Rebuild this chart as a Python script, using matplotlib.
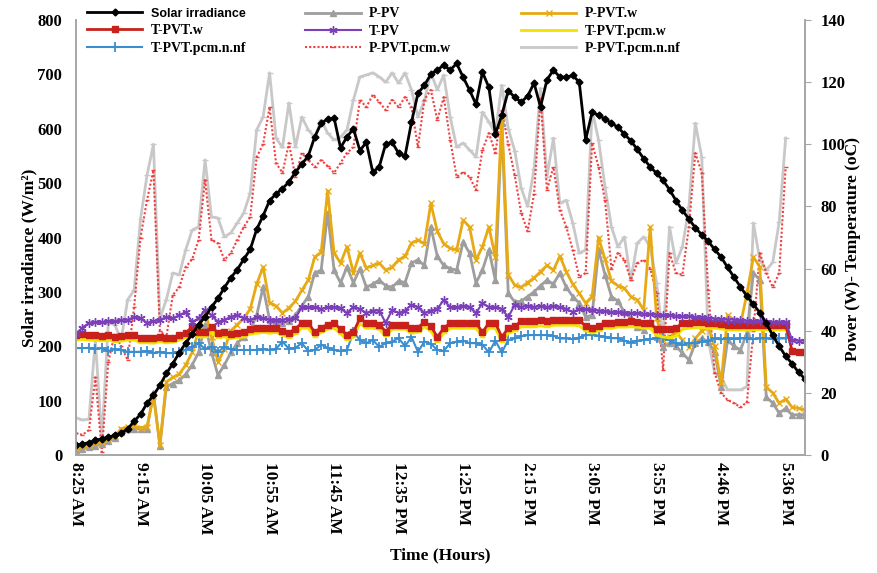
import numpy as np
import matplotlib
matplotlib.use("Agg")
import matplotlib.pyplot as plt

nan = float("nan")

# ---- data (one reading every 5 min, 8:25 AM onwards) ----
tick_labels = ["8:25 AM", "9:15 AM", "10:05 AM", "10:55 AM", "11:45 AM", "12:35 PM",
               "1:25 PM", "2:15 PM", "3:05 PM", "3:55 PM", "4:46 PM", "5:36 PM"]

solar = [18, 20, 23, 27, 30, 33, 36, 40, 48, 62,
         75, 95, 110, 128, 150, 168, 188, 206, 222, 240,
         254, 272, 288, 308, 326, 341, 360, 378, 415, 440,
         468, 480, 490, 502, 520, 535, 550, 585, 610, 618,
         620, 565, 585, 600, 560, 575, 520, 530, 572, 575,
         555, 550, 612, 665, 680, 700, 708, 717, 708, 720,
         695, 671, 645, 704, 676, 590, 625, 670, 658, 649,
         660, 684, 640, 690, 708, 695, 695, 698, 686, 580,
         630, 625, 618, 610, 603, 590, 578, 562, 545, 530,
         518, 505, 488, 468, 450, 434, 418, 405, 393, 378,
         364, 345, 327, 309, 292, 277, 262, 242, 220, 200,
         182, 168, 152, 140]

p_pv = [1.5, 2, 2.5, 3, 3.5, 4.5, 5.5, 7.5, 8.5, 8.5,
        8.5, 8.5, 20, 3, 22, 23, 24, 26, 29, 33,
        42, 33, 25.7, 29, 33, 36, 38, 40, 45, 54,
        43.5, 43, 42.5, 43, 45, 48, 51, 58.6, 59.5, 78,
        59.5, 55.4, 60.5, 55.4, 60, 54, 55, 56.3, 54.5, 54,
        56, 55.5, 61.8, 62.8, 61, 73.4, 64, 61, 60, 59.5,
        68.6, 65, 55.4, 59.5, 66, 56.3, 106.8, 52, 49.3, 49.5,
        51, 52.5, 54.5, 56.3, 55, 58.6, 54, 51, 48.9, 44.4,
        45, 66, 58, 51, 49.5, 46, 44, 41.2, 40.2, 43,
        38, 34.8, 36, 35, 32.8, 30.6, 36, 37.5, 36.5, 33,
        21.9, 37, 35, 33.8, 39.3, 58.6, 56.3, 18.7, 16.7, 13.5,
        15, 12.9, 13, 12.9]

p_pvt_w = [2.3, 2.8, 3.2, 3.8, 4.2, 5, 6, 8.5, 9, 9.2,
           8.8, 9, 19, 3.2, 23.5, 25, 26, 29, 33, 40,
           46.5, 38, 30, 34, 40, 42, 44, 47, 55, 60.5,
           49, 48, 45.7, 47.3, 49.5, 53, 56.3, 63.7, 65.3, 85,
           65, 61.8, 67, 58.6, 65, 60.2, 61, 61.8, 59.5, 60.5,
           62.8, 64, 68.2, 69.2, 68, 81, 72, 68, 66.5, 66,
           75.6, 73.4, 62.8, 67, 73.4, 63.7, 108.8, 58, 54.7, 54,
           55.5, 57, 59, 61, 59.5, 64, 59, 55, 52, 48.9,
           51, 70, 63, 56, 54.5, 53.7, 51, 49.9, 46.7, 73.4,
           44, 37, 38, 39.5, 37, 34.8, 37.5, 40, 41.2, 35,
           23.2, 45, 43.5, 42, 52, 63.7, 60.5, 21.9, 20, 16.7,
           18, 15.4, 15, 14.5]

t_pvt_w = [38.6, 38.8, 38.5, 38.6, 38.2, 38.6, 38, 38.2, 38.5, 38.6,
           37.6, 37.6, 37.5, 38, 37.6, 37.8, 38.5, 39.3, 41.2, 39.5,
           39.5, 41.2, 39.3, 39.5, 39, 39.3, 39.6, 40.5, 40.8, 41,
           40.8, 41, 40, 39.3, 40.6, 42.5, 42.5, 39.5, 41, 42,
           42.5, 40.5, 38.6, 39.5, 44, 42.5, 42.5, 42, 39.7, 42,
           42, 42, 40.8, 41, 42.8, 41.5, 38, 40.8, 42.5, 42.5,
           42.5, 42.5, 42.5, 39.5, 42.5, 42.5, 38, 40.8, 41.5, 43,
           43, 43, 43.3, 43, 43.5, 43.5, 43.5, 43.5, 43.3, 41.5,
           40.8, 41.5, 42.5, 42.5, 42.8, 42.8, 43, 42.8, 42.5, 42.5,
           40.5, 40.5, 40.5, 40.8, 42.5, 42.5, 42.8, 42.8, 42.5, 42.5,
           42.3, 42, 41.8, 41.8, 41.8, 42, 42, 42, 42, 42,
           42, 33.5, 33.2, 33.2]

t_pv = [39, 41, 42.5, 42.8, 42.8, 43, 43, 43.5, 43.5, 44.4,
        44, 42.5, 43, 43.5, 44.4, 44, 45, 46, 42.8, 44,
        46.7, 45, 42.8, 43.5, 44.5, 45, 44, 43.5, 44.4, 44,
        43.5, 43.5, 43.5, 43.8, 44, 47.6, 47.6, 47.6, 47, 47.6,
        47.6, 47.2, 45.7, 47.6, 47, 45.7, 46.5, 46.5, 42.5, 46.7,
        45.7, 46.5, 48.3, 47.6, 45.7, 46.5, 47, 49.9, 47.6, 47.6,
        48, 47.6, 45.7, 48.9, 47.6, 47.6, 47, 44.4, 48.3, 47.6,
        48, 47.6, 48, 47.6, 48, 47.6, 47, 46, 47, 47,
        46.7, 46.5, 46.3, 46, 46.1, 45.8, 45.6, 45.6, 45.4, 45.3,
        45.2, 45, 45.1, 44.8, 44.7, 44.6, 44.3, 44.3, 44, 43.9,
        43.8, 43.6, 43.6, 43.3, 43.2, 43, 43, 42.8, 42.8, 42.9,
        42.8, 37, 36.8, 36.8]

t_pvt_pcm_w = [37, 37.2, 37, 37, 36.8, 37, 36.5, 36.7, 37, 37,
               36.2, 36.2, 36, 36.5, 36.2, 36.3, 37, 37.8, 39.5, 38,
               38, 39.5, 37.8, 38, 37.5, 37.8, 38, 39, 39.2, 39.5,
               39.2, 39.5, 38.5, 37.8, 39, 40.8, 40.8, 38, 39.5, 40.5,
               40.8, 39, 37, 38, 42.3, 40.8, 40.8, 40.5, 38.2, 40.5,
               40.5, 40.5, 39.2, 39.5, 41.2, 40, 36.5, 39.2, 40.8, 40.8,
               40.8, 40.8, 40.8, 38, 40.8, 40.8, 36.5, 39.2, 40, 41.3,
               41.3, 41.3, 41.6, 41.3, 41.8, 41.8, 41.8, 41.8, 41.6, 40,
               39.3, 40, 40.8, 40.8, 41.2, 41.2, 41.3, 41.2, 40.8, 40.8,
               38.5, 38, 37.8, 38.2, 40.5, 40.8, 41, 41, 40.8, 40.8,
               40.6, 40.3, 40.2, 40.2, 40.2, 40.3, 40.3, 40.3, 40.3, 40.3,
               40.3, nan, nan, nan]

t_pvt_pcm_n_nf = [34.4, 34.4, 34.5, 34.2, 34.4, 33.5, 34, 33.8, 33.2, 33.2,
                  33.2, 33.5, 32.8, 33.2, 32.8, 32.8, 33.2, 33.8, 34.8, 35.9,
                  34.2, 34.8, 33.2, 34.8, 34, 33.8, 33.8, 33.8, 33.8, 34,
                  33.8, 34.2, 36.5, 34.2, 34.5, 36, 33.5, 33.8, 35.5, 34.5,
                  33.8, 33.5, 33.8, 39.6, 37, 36, 37, 34.8, 36, 36.5,
                  37.6, 35, 38, 33.2, 36.5, 35.8, 33.8, 33.5, 36, 36.5,
                  36.8, 36, 36, 35.5, 33, 36.8, 33, 37, 37.5, 38.2,
                  38.6, 38.6, 38.6, 38.6, 38.4, 37.5, 37.5, 37.3, 37.8, 38.6,
                  38.6, 38.4, 38, 37.6, 37.6, 36.8, 36.2, 36.8, 37, 37.3,
                  37.6, 37.6, 37, 36, 35.5, 36, 36, 36.5, 36.8, 37.5,
                  37.2, 37.5, 37.3, 37.5, 37.5, 37.3, 37.5, 37.5, 37.3, 37.5,
                  37.5, nan, nan, nan]

p_pvt_pcm_w = [7, 6.5, 8, 25, 1, 30, 39, 35, 30.6, 47.6,
               70, 82, 91.7, 40, 38, 51.5, 54, 60.5, 63, 69.2,
               88.5, 69.2, 68.2, 62.8, 65, 69.2, 73.4, 76.6, 95.9, 100,
               112, 94, 90.8, 100.4, 89.5, 97.2, 94.9, 92.7, 94.9, 93,
               90.8, 94, 97.2, 99.1, 114.3, 112, 115.9, 113.6, 111, 114.3,
               112, 115.2, 112, 99.1, 114.3, 117.5, 107.8, 115.2, 101.4, 89.5,
               91, 89.5, 85.3, 98.2, 103.6, 97.2, 111, 100, 90, 78,
               72, 84, 115, 85.3, 92.7, 78.9, 73.4, 66, 57.3, 58.6,
               100.4, 92.7, 82, 60, 65, 62.8, 56.3, 61.8, 62.8, 60,
               52.1, 27.4, 65, 58.6, 58, 73.4, 97.2, 90.8, 53.1, 26.4,
               20, 17.7, 16.7, 15.4, 17, 40, 65, 58.6, 54, 58.6,
               92.7, nan, nan, nan]

p_pvt_pcm_n_nf = [12, 11.3, 11.5, 37, 5, 42.5, 42, 37, 50, 53,
                  76, 90, 100, 44, 50, 58.6, 58, 66, 72.4, 73.4,
                  95, 76.6, 76.3, 70.2, 71.5, 74.7, 77.9, 84.3, 104.6, 108.8,
                  123, 102, 99, 113.3, 99.1, 108.8, 104.6, 102.3, 107.8, 103.6,
                  101.4, 102.3, 104.6, 114.3, 121.7, 122.3, 123, 121.7, 120, 123,
                  119.7, 123, 117.5, 108.8, 114, 123, 117.5, 122.3, 108.8, 99.1,
                  100.4, 98.2, 95.9, 110.4, 107.2, 103.6, 119, 105, 98, 86,
                  80, 92, 118, 89.5, 102, 81, 82, 74.7, 65, 66,
                  111, 101.4, 86.3, 73.4, 67, 70.2, 56.3, 68.2, 70.2, 67,
                  55.4, 37, 73.4, 61.8, 67, 79.8, 106.8, 95.9, 37, 26.4,
                  25, 21, 21, 21, 22, 74.7, 62.8, 59.5, 62, 75,
                  102, nan, nan, nan]

x = np.arange(len(solar))

SERIF = "Liberation Serif"
GRID_GREY = "#A6A6A6"

fig = plt.figure(figsize=(8.77, 5.73), dpi=100)
ax = fig.add_axes([0.0867, 0.2059, 0.8312, 0.7592])
ax2 = ax.twinx()

# power / temperature series on the secondary axis
h_pnf, = ax2.plot(x, p_pvt_pcm_n_nf, color="#C8C8C8", lw=2, marker="_", ms=4,
                  label="P-PVT.pcm.n.nf")
h_pw, = ax2.plot(x, p_pvt_pcm_w, color="#F04040", lw=1.5, ls=(0, (1, 1)),
                 marker="_", ms=3, label="P-PVT.pcm.w")
h_ppv, = ax2.plot(x, p_pv, color="#9E9E9E", lw=2, marker="^", ms=4,
                  label="P-PV")
h_pvtw, = ax2.plot(x, p_pvt_w, color="#E8AA14", lw=2, marker="x", ms=4,
                   mew=1, label="P-PVT.w")
h_tnf, = ax2.plot(x, t_pvt_pcm_n_nf, color="#3A8ED0", lw=1.5, marker="+", ms=7,
                  mew=1.3, label="T-PVT.pcm.n.nf")
h_tpw, = ax2.plot(x, t_pvt_pcm_w, color="#F2E200", lw=2, marker="_", ms=4,
                  label="T-PVT.pcm.w")
h_tw, = ax2.plot(x, t_pvt_w, color="#C8201A", lw=2, marker="s", ms=4,
                 label="T-PVT.w")
h_tpv, = ax2.plot(x, t_pv, color="#7B3FB8", lw=1.5, marker=(6, 2, 0), ms=6,
                  mew=1, label="T-PV")

# irradiance on the primary axis, drawn above the rest
h_sol, = ax.plot(x, solar, color="black", lw=2, marker="D", ms=3.5,
                 label="Solar irradiance")
ax.set_zorder(ax2.get_zorder() + 1)
ax.patch.set_visible(False)

ax.set_xlim(0, len(solar) - 1)
ax.set_ylim(0, 800)
ax.set_yticks(np.arange(0, 801, 100))
ax2.set_ylim(0, 140)
ax2.set_yticks(np.arange(0, 141, 20))

ax.set_xticks(np.arange(0, len(solar), 10))
ax.set_xticklabels(tick_labels, rotation=-90, fontfamily=SERIF,
                   fontweight="bold", fontsize=12.5)
for lab in ax.get_yticklabels() + ax2.get_yticklabels():
    lab.set_fontfamily(SERIF)
    lab.set_fontweight("bold")
    lab.set_fontsize(12)

ax.tick_params(axis="x", length=0, pad=5)
ax.tick_params(axis="y", length=0, pad=10)
ax2.tick_params(axis="y", length=4, color=GRID_GREY, pad=7)

for a in (ax, ax2):
    a.spines["top"].set_visible(False)
    for s in ("left", "right", "bottom"):
        a.spines[s].set_color(GRID_GREY)
        a.spines[s].set_linewidth(1.2)

fig.text(0.034, 0.55, "Solar irradiance (W/m²)", rotation=90, ha="center",
         va="center", fontfamily=SERIF, fontweight="bold", fontsize=12.5)
fig.text(0.973, 0.565, "Power (W)- Temperature (oC)", rotation=90, ha="center",
         va="center", fontfamily=SERIF, fontweight="bold", fontsize=12.5)
fig.text(0.502, 0.031, "Time (Hours)", ha="center", va="center",
         fontfamily=SERIF, fontweight="bold", fontsize=12.5)

# three legend columns placed along the top
columns = [([h_sol, h_tw, h_tnf], 0.099),
           ([h_ppv, h_tpv, h_pw], 0.348),
           ([h_pvtw, h_tpw, h_pnf], 0.594)]
for handles, x0 in columns:
    leg = fig.legend(handles=handles, loc="upper left", bbox_to_anchor=(x0, 0.987),
                     frameon=False, borderpad=0, borderaxespad=0,
                     handlelength=4.0, handletextpad=0.6, labelspacing=0.3,
                     prop={"family": SERIF, "weight": "bold", "size": 10})
    for t in leg.get_texts():
        if t.get_text() == "Solar irradiance":
            t.set_fontfamily("Liberation Sans")
            t.set_fontsize(9)

fig.savefig("out.png", dpi=100)
